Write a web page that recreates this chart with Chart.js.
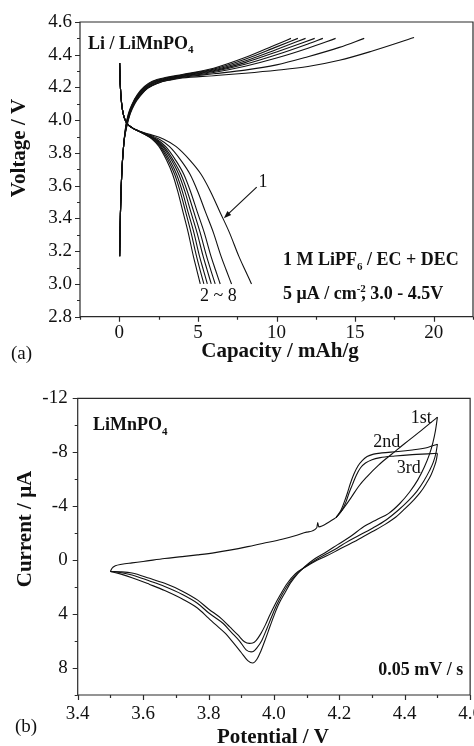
<!DOCTYPE html>
<html>
<head>
<meta charset="utf-8">
<script src="https://cdn.jsdelivr.net/npm/chart.js@4.4.1/dist/chart.umd.min.js"></script>
<style>
  html, body { margin: 0; padding: 0; background: #fff; overflow: hidden; }
  body { width: 474px; height: 746px; position: relative; }
  #wrapA { position: absolute; left: 0; top: 0; }
  #wrapB { position: absolute; left: 0; top: 370px; }
</style>
</head>
<body>
<div id="wrapA"><canvas id="chartA" width="474" height="370"></canvas></div>
<div id="wrapB"><canvas id="chartB" width="490" height="376"></canvas></div>
<script>
// ---- panel (a): charge / discharge curves, cycles 1..8 ----
const capTicks = [0, 5, 10, 15, 20];
const capMinor = [-2.5, 2.5, 7.5, 12.5, 17.5, 22.5];
const voltTicks = [2.8, 3.0, 3.2, 3.4, 3.6, 3.8, 4.0, 4.2, 4.4, 4.6];
const voltMinor = [2.9, 3.1, 3.3, 3.5, 3.7, 3.9, 4.1, 4.3, 4.5];

const charge1 = [[0.02,3.17],[0.07,3.42],[0.15,3.66],[0.28,3.85],[0.47,3.96],[0.7,4.04],[0.98,4.1],[1.35,4.15],[1.85,4.2],[2.5,4.228],[3.2,4.245],[4,4.258],[6,4.272],[8,4.287],[10,4.305],[12,4.328],[14,4.366],[16,4.42],[18.75,4.505]];
const charge2 = [[0.02,3.17],[0.07,3.42],[0.15,3.66],[0.28,3.85],[0.46,3.96],[0.68,4.04],[0.95,4.1],[1.3,4.15],[1.8,4.195],[2.4,4.225],[3.1,4.245],[4,4.262],[6,4.284],[8,4.306],[10,4.338],[12,4.388],[14,4.445],[15.58,4.5]];
const charge3 = [[0.02,3.17],[0.07,3.42],[0.15,3.66],[0.28,3.85],[0.45,3.96],[0.66,4.04],[0.92,4.1],[1.27,4.15],[1.75,4.195],[2.35,4.228],[3,4.248],[4,4.265],[6,4.292],[8,4.33],[10,4.38],[12,4.44],[13.76,4.5]];
const charge4 = [[0.02,3.17],[0.07,3.42],[0.15,3.66],[0.28,3.85],[0.44,3.96],[0.65,4.04],[0.9,4.1],[1.25,4.152],[1.72,4.198],[2.3,4.23],[3,4.25],[4,4.268],[6,4.298],[8,4.342],[10,4.4],[12,4.466],[12.95,4.5]];
const charge5 = [[0.02,3.17],[0.07,3.42],[0.15,3.66],[0.28,3.85],[0.43,3.96],[0.63,4.04],[0.88,4.1],[1.22,4.153],[1.7,4.2],[2.25,4.232],[3,4.253],[4,4.27],[6,4.302],[8,4.352],[10,4.417],[12.43,4.5]];
const charge6 = [[0.02,3.17],[0.07,3.42],[0.15,3.66],[0.28,3.85],[0.42,3.96],[0.62,4.04],[0.86,4.1],[1.2,4.155],[1.67,4.202],[2.2,4.234],[3,4.256],[4,4.273],[6,4.307],[8,4.362],[10,4.432],[11.85,4.5]];
const charge7 = [[0.02,3.17],[0.07,3.42],[0.15,3.66],[0.28,3.85],[0.41,3.96],[0.6,4.04],[0.84,4.1],[1.18,4.156],[1.64,4.204],[2.15,4.236],[3,4.259],[4,4.276],[6,4.312],[8,4.372],[10,4.448],[11.36,4.5]];
const charge8 = [[0.02,3.17],[0.07,3.42],[0.15,3.66],[0.28,3.85],[0.4,3.96],[0.58,4.04],[0.82,4.1],[1.15,4.157],[1.6,4.206],[2.1,4.238],[3,4.262],[4,4.279],[6,4.318],[8,4.383],[10,4.463],[10.92,4.5]];

// discharge: one voltage list, capacity per cycle
const dischargeV = [4.35, 4.22, 4.1, 4.02, 3.98, 3.955, 3.935, 3.912, 3.885, 3.84, 3.755, 3.67, 3.565, 3.44, 3.315, 3.17, 3.085, 3.0];
const discharge1 = [0.02, 0.06, 0.15, 0.3, 0.5, 0.8, 1.2, 2.0, 2.8, 3.6, 4.5, 5.2, 5.8, 6.4, 7.0, 7.6, 8.0, 8.41];
const discharge2 = [0.02, 0.06, 0.15, 0.3, 0.5, 0.8, 1.2, 1.86, 2.52, 3.18, 3.92, 4.5, 4.99, 5.48, 5.98, 6.47, 6.8, 7.14];
const discharge3 = [0.02, 0.06, 0.15, 0.3, 0.5, 0.8, 1.2, 1.78, 2.36, 2.94, 3.59, 4.1, 4.53, 4.96, 5.4, 5.83, 6.12, 6.42];
const discharge4 = [0.02, 0.06, 0.15, 0.3, 0.5, 0.8, 1.2, 1.74, 2.29, 2.83, 3.44, 3.92, 4.33, 4.74, 5.14, 5.55, 5.82, 6.1];
const discharge5 = [0.02, 0.06, 0.15, 0.3, 0.5, 0.8, 1.2, 1.72, 2.23, 2.75, 3.33, 3.78, 4.17, 4.55, 4.94, 5.33, 5.59, 5.85];
const discharge6 = [0.02, 0.06, 0.15, 0.3, 0.5, 0.8, 1.2, 1.69, 2.18, 2.66, 3.21, 3.64, 4.01, 4.37, 4.74, 5.1, 5.35, 5.6];
const discharge7 = [0.02, 0.06, 0.15, 0.3, 0.5, 0.8, 1.2, 1.66, 2.13, 2.59, 3.11, 3.52, 3.87, 4.22, 4.56, 4.91, 5.14, 5.38];
const discharge8 = [0.02, 0.06, 0.15, 0.3, 0.5, 0.8, 1.2, 1.64, 2.08, 2.52, 3.01, 3.39, 3.72, 4.05, 4.38, 4.71, 4.93, 5.15];

// ---- panel (b): cyclic voltammetry, 3 cycles ----
const potTicks = [3.4, 3.6, 3.8, 4.0, 4.2, 4.4, 4.6];
const potMinor = [3.5, 3.7, 3.9, 4.1, 4.3, 4.5];
const curTicks = [-12, -8, -4, 0, 4, 8];
const curMinor = [-10, -6, -2, 2, 6, 10];

// anodic sweep shared by all cycles up to ~4.19 V
const cvBase = [[3.5,0.84],[3.505,0.6],[3.515,0.42],[3.535,0.3],[3.566,0.2],[3.6,0.1],[3.666,-0.12],[3.72,-0.26],[3.766,-0.39],[3.82,-0.56],[3.865,-0.74],[3.92,-1.0],[3.965,-1.24],[4.025,-1.55],[4.07,-1.85],[4.1,-2.08],[4.131,-2.4],[4.134,-2.78],[4.137,-2.47],[4.17,-2.85],[4.19,-3.15]];
const cv1Up = [[4.19,-3.15],[4.21,-3.75],[4.235,-4.6],[4.26,-5.5],[4.285,-6.2],[4.32,-7.05],[4.364,-7.93],[4.4,-8.65],[4.45,-9.6],[4.5,-10.6]];
const cv2Up = [[4.19,-3.15],[4.205,-3.7],[4.215,-4.3],[4.225,-5.0],[4.234,-5.7],[4.245,-6.4],[4.257,-6.98],[4.27,-7.38],[4.285,-7.68],[4.305,-7.86],[4.33,-7.95],[4.38,-8.05],[4.423,-8.17],[4.47,-8.35],[4.5,-8.6]];
const cv3Up = [[4.19,-3.15],[4.208,-3.7],[4.22,-4.3],[4.23,-5.0],[4.24,-5.6],[4.252,-6.3],[4.265,-6.85],[4.28,-7.2],[4.3,-7.45],[4.325,-7.6],[4.37,-7.72],[4.423,-7.82],[4.47,-7.88],[4.5,-7.92]];
const cv1Down = [[4.5,-10.6],[4.494,-9.6],[4.486,-8.7],[4.475,-7.8],[4.46,-6.9],[4.44,-5.95],[4.415,-5.05],[4.385,-4.2],[4.35,-3.45],[4.314,-3.0],[4.27,-2.4],[4.234,-1.75],[4.195,-1.15],[4.16,-0.6],[4.125,-0.1],[4.095,0.47],
  [4.075,0.95],[4.052,1.65],[4.033,2.45],[4.016,3.2],[4.002,4.0],[3.989,4.85],[3.975,5.8],[3.96,6.75],[3.948,7.35],[3.935,7.63],[3.92,7.45],[3.9,6.85],[3.875,6.1],[3.85,5.4],[3.82,4.75],[3.8,4.3],[3.766,3.55],[3.72,2.88],[3.666,2.25],[3.62,1.8],[3.566,1.3],[3.53,1.02],[3.5,0.84]];
const cv2Down = [[4.5,-8.6],[4.496,-8.0],[4.488,-7.3],[4.475,-6.6],[4.458,-5.85],[4.437,-5.1],[4.413,-4.45],[4.38,-3.7],[4.344,-3.0],[4.3,-2.35],[4.254,-1.75],[4.22,-1.3],[4.194,-0.9],[4.16,-0.45],[4.13,-0.05],[4.097,0.47],
  [4.07,1.0],[4.045,1.75],[4.025,2.55],[4.008,3.35],[3.993,4.2],[3.978,5.1],[3.963,5.95],[3.948,6.5],[3.938,6.75],[3.93,6.8],[3.915,6.65],[3.895,6.0],[3.87,5.35],[3.845,4.7],[3.82,4.25],[3.8,3.9],[3.766,3.2],[3.72,2.55],[3.666,1.96],[3.62,1.55],[3.566,1.1],[3.53,0.92],[3.5,0.84]];
const cv3Down = [[4.5,-7.92],[4.497,-7.45],[4.49,-6.9],[4.48,-6.3],[4.465,-5.65],[4.447,-5.0],[4.425,-4.4],[4.4,-3.8],[4.373,-3.2],[4.34,-2.65],[4.3,-2.1],[4.274,-1.75],[4.24,-1.3],[4.2,-0.8],[4.16,-0.3],[4.125,0.1],[4.099,0.47],
  [4.066,1.0],[4.04,1.75],[4.02,2.55],[4.003,3.3],[3.988,4.05],[3.974,4.8],[3.96,5.45],[3.946,5.95],[3.935,6.15],[3.925,6.17],[3.91,6.05],[3.89,5.55],[3.865,4.95],[3.84,4.35],[3.8,3.62],[3.766,2.95],[3.72,2.3],[3.666,1.72],[3.62,1.35],[3.566,0.95],[3.53,0.86],[3.5,0.84]];

const INK = '#111';
const SERIF = '"Liberation Serif", "Times New Roman", serif';

function curve(data) {
  return { data: data, borderColor: INK, borderWidth: 1.1, pointRadius: 0, showLine: true,
           fill: false, cubicInterpolationMode: 'monotone' };
}
function zip(xs, ys) {
  return xs.map((x, i) => ({ x: x, y: ys[i] }));
}

function drawText(ctx, item) {
  const size = item.size;
  const weight = item.bold ? 'bold ' : '';
  const segs = item.parts.map(p => typeof p === 'string' ? { t: p } : p);
  const fontFor = s => weight + ((s.sub || s.sup) ? Math.round(size * 0.62) : size) + 'px ' + SERIF;
  ctx.save();
  ctx.translate(item.x, item.y);
  if (item.rotate) ctx.rotate(item.rotate);
  ctx.fillStyle = INK;
  ctx.textAlign = 'left';
  ctx.textBaseline = item.baseline || 'alphabetic';
  let total = 0;
  segs.forEach(s => { ctx.font = fontFor(s); s.w = ctx.measureText(s.t).width; total += s.w + (s.dx || 0); });
  let cx = item.align === 'center' ? -total / 2 : 0;
  segs.forEach(s => {
    ctx.font = fontFor(s);
    cx += s.dx || 0;
    const dy = s.sub ? size * 0.25 : (s.sup ? -size * 0.38 : 0);
    ctx.fillText(s.t, cx, dy);
    cx += s.w;
  });
  ctx.restore();
}

// box, outward ticks, free text and arrows
const decorations = {
  id: 'decorations',
  afterDraw(chart, args, opts) {
    const { ctx, chartArea: a, scales: { x, y } } = chart;
    ctx.save();
    ctx.strokeStyle = '#2a2a2a';
    ctx.lineWidth = 1.2;
    ctx.beginPath();
    ctx.moveTo(a.left, a.bottom);
    ctx.lineTo(a.left, a.top);
    ctx.lineTo(a.right, a.top);
    ctx.lineTo(a.right, a.bottom);
    ctx.closePath();
    ctx.stroke();
    ctx.beginPath();
    const tick = (vals, len, horiz) => vals.forEach(v => {
      if (horiz) {
        const px = Math.round(x.getPixelForValue(v)) + 0.5;
        ctx.moveTo(px, a.bottom); ctx.lineTo(px, a.bottom + len);
      } else {
        const py = Math.round(y.getPixelForValue(v)) + 0.5;
        ctx.moveTo(a.left, py); ctx.lineTo(a.left - len, py);
      }
    });
    tick(opts.xMajor, 5, true);
    tick(opts.xMinor, 3, true);
    tick(opts.yMajor, 5, false);
    tick(opts.yMinor, 3, false);
    ctx.stroke();

    (opts.arrows || []).forEach(ar => {
      const x1 = x.getPixelForValue(ar.from[0]), y1 = y.getPixelForValue(ar.from[1]);
      const x2 = x.getPixelForValue(ar.to[0]), y2 = y.getPixelForValue(ar.to[1]);
      const ang = Math.atan2(y2 - y1, x2 - x1);
      ctx.strokeStyle = INK;
      ctx.fillStyle = INK;
      ctx.lineWidth = 1.1;
      ctx.beginPath();
      ctx.moveTo(x1, y1);
      ctx.lineTo(x2 - 5 * Math.cos(ang), y2 - 5 * Math.sin(ang));
      ctx.stroke();
      ctx.beginPath();
      ctx.moveTo(x2, y2);
      ctx.lineTo(x2 - 8 * Math.cos(ang - 0.35), y2 - 8 * Math.sin(ang - 0.35));
      ctx.lineTo(x2 - 8 * Math.cos(ang + 0.35), y2 - 8 * Math.sin(ang + 0.35));
      ctx.closePath();
      ctx.fill();
    });
    ctx.restore();
    (opts.notes || []).forEach(n => drawText(ctx, n));
  }
};

function axis(min, max, ticks, fmt, padding, extra) {
  return Object.assign({
    type: 'linear', min: min, max: max,
    grid: { display: false, drawTicks: false },
    border: { display: false },
    afterBuildTicks: s => { s.ticks = ticks.map(v => ({ value: v })); },
    ticks: { color: INK, font: { family: SERIF, size: 19 }, padding: padding,
             autoSkip: false, maxRotation: 0, callback: fmt }
  }, extra);
}

const baseOptions = {
  responsive: false,
  devicePixelRatio: 1,
  animation: false,
  events: [],
  plugins: { legend: { display: false }, tooltip: { enabled: false } }
};

new Chart(document.getElementById('chartA'), {
  type: 'scatter',
  data: {
    datasets: [charge1, charge2, charge3, charge4, charge5, charge6, charge7, charge8].map(curve).concat(
      [discharge1, discharge2, discharge3, discharge4, discharge5, discharge6, discharge7, discharge8]
        .map(c => curve(zip(c, dischargeV))))
  },
  options: Object.assign({}, baseOptions, {
    layout: { padding: { top: 22, right: 1, bottom: 0, left: 0 } },
    scales: {
      x: axis(-2.5, 22.5, capTicks, v => String(v), 5, { afterFit: s => { s.height = 53.3; } }),
      y: axis(2.8, 4.6, voltTicks, v => v.toFixed(1), 8, { afterFit: s => { s.width = 80; } })
    },
    plugins: Object.assign({}, baseOptions.plugins, {
      decorations: {
        xMajor: capTicks, xMinor: capMinor, yMajor: voltTicks, yMinor: voltMinor,
        arrows: [{ from: [8.74, 3.591], to: [6.65, 3.402] }],
        notes: [
          { parts: ['Voltage / V'], x: 20, y: 148, size: 21, bold: true, rotate: -Math.PI / 2, align: 'center', baseline: 'middle' },
          { parts: ['Capacity / mAh/g'], x: 280, y: 352, size: 21, bold: true, align: 'center', baseline: 'middle' },
          { parts: ['(a)'], x: 11, y: 354, size: 19, baseline: 'middle' },
          { parts: ['Li / LiMnPO', { t: '4', sub: true }], x: 88, y: 48.5, size: 18, bold: true },
          { parts: ['1 M LiPF', { t: '6', sub: true }, ' / EC + DEC'], x: 283, y: 265, size: 18, bold: true },
          { parts: ['5 \u03bcA / cm', { t: '-2', sup: true }, { t: ', 3.0 - 4.5V', dx: -4.5 }], x: 283, y: 299, size: 18, bold: true },
          { parts: ['1'], x: 263, y: 187, size: 18, align: 'center' },
          { parts: ['2 ~ 8'], x: 200, y: 301, size: 18 }
        ]
      }
    })
  }),
  plugins: [decorations]
});

new Chart(document.getElementById('chartB'), {
  type: 'scatter',
  data: {
    datasets: [cvBase, cv1Up, cv2Up, cv3Up, cv1Down, cv2Down, cv3Down].map(curve)
  },
  options: Object.assign({}, baseOptions, {
    layout: { padding: { top: 28.3, right: 10.3, bottom: 0, left: 0 } },
    scales: {
      x: axis(3.4, 4.6, potTicks, v => v.toFixed(1), 8, { afterFit: s => { s.height = 51; } }),
      y: axis(-12, 10, curTicks, v => String(v), 10, { reverse: true, afterFit: s => { s.width = 77.7; } })
    },
    plugins: Object.assign({}, baseOptions.plugins, {
      decorations: {
        xMajor: potTicks, xMinor: potMinor, yMajor: curTicks, yMinor: curMinor,
        notes: [
          { parts: ['Current / \u03bcA'], x: 26, y: 159, size: 21, bold: true, rotate: -Math.PI / 2, align: 'center', baseline: 'middle' },
          { parts: ['Potential / V'], x: 273, y: 368, size: 21, bold: true, align: 'center', baseline: 'middle' },
          { parts: ['(b)'], x: 15, y: 357, size: 19, baseline: 'middle' },
          { parts: ['LiMnPO', { t: '4', sub: true }], x: 93, y: 60, size: 18, bold: true },
          { parts: ['1st'], x: 410.7, y: 53.3, size: 18 },
          { parts: ['2nd'], x: 373.3, y: 76.7, size: 18 },
          { parts: ['3rd'], x: 396.7, y: 103.3, size: 18 },
          { parts: ['0.05 mV / s'], x: 378.3, y: 305, size: 18, bold: true }
        ]
      }
    })
  }),
  plugins: [decorations]
});
</script>
</body>
</html>
